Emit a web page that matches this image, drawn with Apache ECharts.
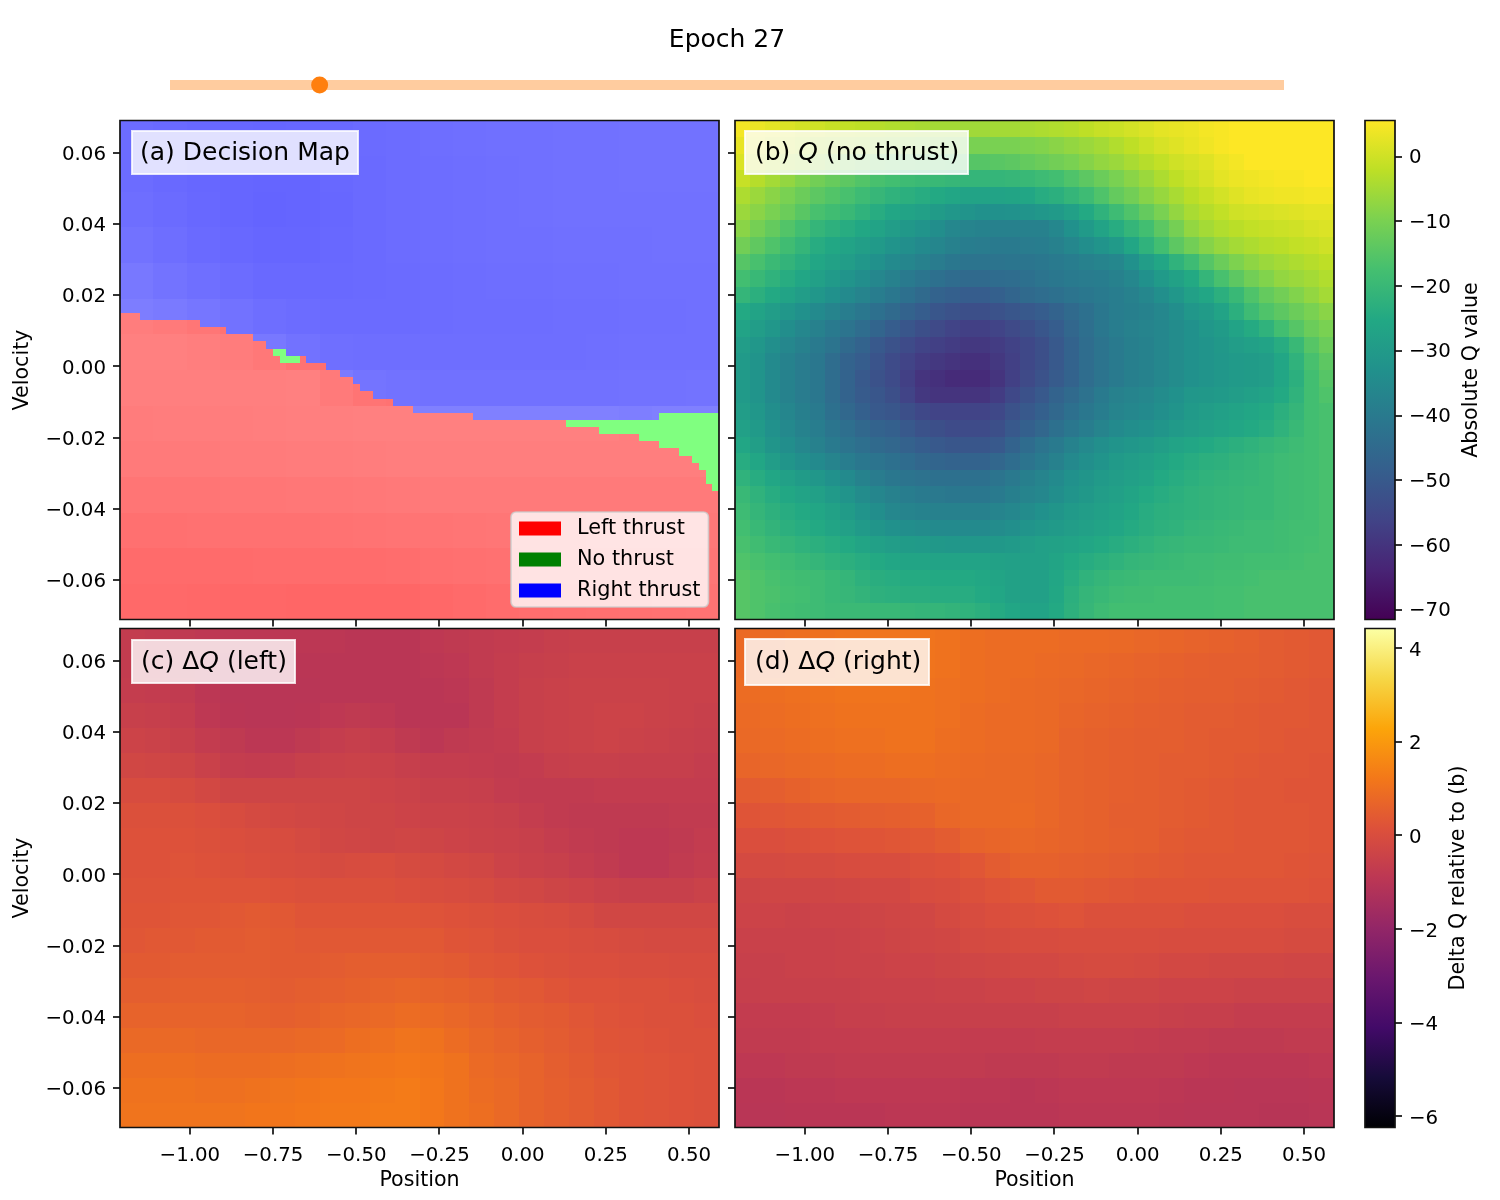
<!DOCTYPE html>
<html><head><meta charset="utf-8">
<script src="https://cdn.jsdelivr.net/npm/echarts@6/dist/echarts.min.js"></script>
<style>html,body{margin:0;background:#fff}#c{width:1500px;height:1200px}</style></head>
<body><div id="c"></div>
<script>
const positionTicks=[-1,-0.75,-0.5,-0.25,0,0.25,0.5];
const velocityTicks=[-0.06,-0.04,-0.02,0,0.02,0.04,0.06];
const qBarTicks=[-70,-60,-50,-40,-30,-20,-10,0];
const deltaBarTicks=[-6,-4,-2,0,2,4];
const qRange=[-71.5,5.56];
const deltaRange=[-6.24,4.42];
const epoch=27, epochMax=201;
// top row of "left thrust" per position column (rows counted from the bottom)
const leftTop=[43,43,43,42,42,42,42,42,42,42,42,42,41,41,41,41,40,40,40,40,39,39,38,37,36,36,36,37,36,36,36,35,35,34,34,33,32,32,31,31,31,30,30,30,29,29,29,29,29,29,29,29,29,28,28,28,28,28,28,28,28,28,28,28,28,28,28,27,27,27,27,27,26,26,26,26,26,26,25,25,25,24,24,24,23,23,22,21,19,18];
// top row of "no thrust" per position column
const noTop=[43,43,43,42,42,42,42,42,42,42,42,42,41,41,41,41,40,40,40,40,39,39,38,38,38,37,37,37,36,36,36,35,35,34,34,33,32,32,31,31,31,30,30,30,29,29,29,29,29,29,29,29,29,28,28,28,28,28,28,28,28,28,28,28,28,28,28,28,28,28,28,28,28,28,28,28,28,28,28,28,28,29,29,29,29,29,29,29,29,29];
// lightness of the decision colour, top row first
const shadeRows=[
[108,106,104,103,102,103,105,107,108,110,111,112,112,113,113,114,114,114],
[108,105,103,102,101,101,104,106,108,109,110,111,112,113,113,114,114,114],
[110,107,104,102,100,101,103,106,108,109,110,111,112,113,113,113,113,113],
[114,110,106,104,102,102,104,106,108,109,110,111,111,112,112,112,113,113],
[120,115,111,108,105,105,105,106,107,108,109,110,110,111,111,112,112,112],
[125,122,118,114,110,108,107,107,107,108,109,109,109,110,110,111,111,112],
[128,128,126,124,120,114,111,110,110,110,110,110,110,110,111,112,112,112],
[127,127,127,127,127,128,122,116,114,113,113,113,113,113,113,114,114,115],
[124,125,125,125,126,127,127,128,128,128,128,128,128,128,128,126,128,128],
[122,122,122,123,123,124,124,125,126,126,126,126,126,126,126,126,126,126],
[117,117,117,118,118,119,119,120,121,122,122,122,122,122,122,122,122,122],
[112,112,113,113,113,113,114,115,116,116,117,118,118,118,119,119,120,120],
[107,107,107,107,108,108,108,108,109,111,112,113,114,115,115,116,117,118],
[105,105,104,103,103,102,102,102,102,104,106,108,110,111,112,113,114,115]];
// Q (no thrust), top row first
const qRows=[
[4.5,3.5,2.5,1.5,0.5, 0,-1,-1.5,-2,-3, -3.5,-4,-4.5,-5,-5, -5.5,-5.5,-5,-5,-4.5, -4,-3.5,-3,-2,-1, -0.5,0.5,1.5,2.5,3, 3.5,4.5,5,5.5,5.5, 5.5,5.5,5.5,5.5,5.5],
[3,2,0.5,-0.5,-2, -3,-4,-4.5,-5,-6, -6.5,-7,-8,-8.5,-9, -10,-10,-10,-10,-9.5, -9,-8,-7,-6,-5, -3.5,-2,-0.5,1,2, 3,4,5,5.5,5.5, 5.5,5.5,5.5,5.5,5.5],
[1.5,-0.5,-2,-3.5,-5, -6,-8,-9.5,-11,-12, -13,-13.5,-14,-14.5,-15, -15,-15,-14.5,-14,-13, -12,-11,-10,-8.5,-7, -6,-4.5,-3,-1.5,0, 1,2,3.5,4.5,5.5, 5.5,5.5,5.5,5.5,5.5],
[-1,-3,-5,-7,-9, -11,-12.5,-14,-15.5,-17, -18,-19,-19.5,-20,-20.5, -21,-21,-21,-20.5,-20, -19,-18,-16,-14,-12, -10,-8,-6,-4,-2, -0.5,1,2.5,3.5,4, 4.5,5,5,5.5,5.5],
[-4,-6,-8,-10,-12, -14,-15.5,-17,-19,-20.5, -22,-23,-24,-25,-26, -27,-27,-27,-26.5,-26, -24,-23,-21,-19,-16, -13,-11,-8.5,-6.5,-4.5, -2.5,-1,0.5,2,3, 3.5,4,4,4.5,4.5],
[-6,-8,-10,-12,-14.5, -17,-18.5,-20,-22,-24, -26,-27,-28,-29.5,-31, -32,-33,-33,-32.5,-32, -31,-30,-28,-25,-22, -19,-16,-13,-10,-7, -4.5,-3,-1.5,0,0.5, 1,1.5,2,2.5,2.5],
[-8,-10.5,-13,-15.5,-18, -21,-22.5,-24,-25.5,-27, -29,-30.5,-32,-34,-36, -37,-37.5,-38,-38,-38, -38,-36,-33,-30,-27, -24,-21,-18,-14,-10.5, -7,-5,-3.5,-2.5,-1.5, -1,-0.5,0,1,1.5],
[-11,-13.5,-16,-18.5,-21, -24,-25.5,-27,-28.5,-30, -32,-33.5,-35,-36.5,-38, -39,-39.5,-40,-40,-39.5, -39,-38,-36,-34,-32, -30,-26,-22,-18,-14, -11,-8.5,-6.5,-5,-4, -3,-2.5,-1.5,-1,0],
[-15,-17,-19.5,-21.5,-23.5, -26,-27.5,-29,-31,-33, -35,-36.5,-38,-39.5,-41, -42,-42,-42,-41.5,-41.5, -41,-40,-39,-38,-37, -36,-33,-29,-26,-22, -19,-15,-12,-9.5,-7.5, -6,-5,-4,-3,-2],
[-18,-20,-22,-24,-26, -28,-30,-32,-34,-36, -38,-40,-41.5,-43,-44.5, -45,-45,-44.5,-44,-43, -42,-41,-40,-39.5,-39, -38,-36,-33,-30,-27.5, -25,-21,-17,-14,-11, -9,-7,-6,-5,-3.5],
[-21,-23,-25,-27,-29, -31,-33,-35,-37,-39, -41,-43,-45,-47,-48, -49,-49,-48,-46.5,-45, -44,-43,-42,-41,-40, -39,-38,-36,-33.5,-31, -28,-26,-23,-20,-16, -13,-11,-9,-7,-5],
[-25,-27,-29,-31,-33, -35,-37,-39,-41,-43, -45,-47,-49,-51,-52, -53,-53,-52,-51,-50, -49,-47,-45,-43,-41, -39,-38.5,-37.5,-36,-34, -31,-29.5,-27,-23,-19, -16,-14,-12,-10,-8],
[-27,-29,-31,-34,-36, -38,-40,-42,-44,-46.5, -49,-51,-53,-54.5,-56, -57,-57,-56,-54.5,-53, -51,-49,-46,-43.5,-41, -39,-38,-37,-36,-34.5, -33,-31,-29.5,-27,-24.5, -22,-18,-15,-12,-10],
[-29,-31,-33.5,-36,-38, -40,-42,-45,-47,-50, -52,-54,-56,-57,-58, -59,-59,-58,-56.5,-55, -53,-50,-47,-44,-42, -40,-38.5,-37.5,-36,-34.5, -33,-32,-30.5,-29,-28, -27,-24,-20,-15,-12],
[-30,-32,-35,-37.5,-39.5, -41,-44,-47,-49,-51.5, -54,-56,-58,-59,-60, -61,-61,-59,-57,-55, -53,-50,-47,-44,-42, -40,-38.5,-37.5,-36,-34.5, -33,-32,-31,-30,-29.5, -29,-26,-22,-17,-14],
[-30,-32,-35,-37.5,-39.5, -41,-44,-47,-50,-52, -54,-57,-60,-61,-62, -62,-62,-60,-57,-54.5, -52,-49.5,-47,-44,-42, -40,-38.5,-37.5,-36,-34.5, -33,-32,-31,-30,-29.5, -29,-26,-23,-18,-15],
[-30,-32,-35,-37.5,-39.5, -41,-44,-47,-49.5,-51, -53,-56,-59,-60,-60, -60,-60,-58,-55,-52.5, -50,-47,-45,-42.5,-40, -38,-37,-36,-34.5,-33, -31,-30.5,-30,-29,-28, -27,-25,-22,-18,-16],
[-29,-31,-34,-36.5,-38.5, -40,-43,-45.5,-48,-50, -51,-53,-55,-56,-56, -56,-56,-55,-52,-50, -48,-45.5,-43,-41,-39, -37,-36,-35,-33.5,-32, -30,-29,-28,-27,-26, -25,-23,-21,-18,-17],
[-28,-30,-33,-35.5,-37.5, -39,-41.5,-43.5,-45.5,-47, -48,-50,-52,-53,-54, -54,-54,-53,-50,-48, -46,-43,-41,-39,-37, -35,-34,-33,-31.5,-30, -29,-28,-27,-26,-25, -24,-22,-20,-18,-17],
[-26,-28.5,-31.5,-34,-36, -38,-40,-42,-43.5,-45, -46,-47.5,-49,-50,-51, -51,-51,-50,-47,-44.5, -42,-40,-37.5,-35.5,-33.5, -32,-31,-30,-28.5,-27, -26,-25,-24,-23,-22, -21,-20,-19,-18,-17],
[-24,-26,-29,-31.5,-33.5, -35,-37,-39,-41,-42, -43,-44.5,-46,-46.5,-47, -47,-47,-46,-44,-42, -40,-38,-35.5,-33.5,-32, -30,-29,-28,-26.5,-25, -24,-23,-22.5,-21.5,-21, -20,-19,-18.5,-18,-17],
[-22,-24,-26,-28,-29.5, -31,-33,-35,-37.5,-39.5, -41,-42,-42.5,-43,-43, -43,-43,-42,-40.5,-38.5, -37,-35,-33,-31.5,-30, -29,-28,-27,-25,-24, -23,-22,-21.5,-21,-20.5, -20,-19,-18.5,-18,-17],
[-20,-22,-24,-25.5,-27, -28,-30,-32,-34.5,-36.5, -38,-39,-40,-40.5,-41, -41,-41,-40,-38.5,-37, -36,-34,-32,-30.5,-29, -28,-26.5,-25,-24,-23, -22,-21.5,-21,-20.5,-20, -20,-19,-18.5,-18,-17],
[-19,-21,-22.5,-24,-25, -26,-27.5,-29.5,-32,-34, -36,-37,-37.5,-38,-38, -38,-38,-37,-36,-34.5, -33,-31.5,-30,-29,-28, -27,-25.5,-24,-23,-22.5, -22,-21.5,-21,-20.5,-20, -20,-19,-18.5,-18,-17],
[-18,-20,-21.5,-23,-24, -25,-26.5,-28,-30,-31.5, -33,-34,-34.5,-35,-35, -35,-35,-34.5,-33.5,-32, -31,-30,-29,-28,-27, -26,-24.5,-23.5,-22.5,-22, -21,-20.5,-20,-19.5,-19, -19,-18.5,-18,-18,-17],
[-17,-18.5,-20,-21,-22, -23,-24,-25,-26.5,-28, -29,-29.5,-30,-30.5,-31, -31,-31,-30.5,-30,-29, -28,-27.5,-27,-26,-25, -24,-23,-22,-21,-20.5, -20,-20,-19.5,-19,-19, -19,-18.5,-18,-17.5,-17],
[-16,-17,-18,-19,-20, -21,-22,-23,-24,-25, -26,-26.5,-26.5,-27,-27, -27,-27,-27.5,-28,-28, -28,-26.5,-25,-24,-23, -22,-21,-20.5,-20,-19.5, -19,-19,-18.5,-18.5,-18, -18,-18,-17.5,-17,-17],
[-15,-16,-17,-18,-18.5, -19,-20,-21,-22.5,-23.5, -24,-24.5,-24.5,-25,-25, -25,-25.5,-26.5,-27.5,-28, -28,-26,-24,-22,-21, -20,-19.5,-19,-19,-19, -19,-18.5,-18,-18,-17.5, -17,-17,-17,-17,-17],
[-15,-16,-16.5,-17.5,-18, -19,-20,-20.5,-21.5,-22.5, -23,-23.5,-23.5,-24,-24, -24,-25,-26,-27.5,-28, -28,-25.5,-23,-21,-20, -19,-18.5,-18.5,-18,-18, -18,-18,-17.5,-17.5,-17, -17,-17,-17,-17,-17],
[-15,-16,-17,-18,-18.5, -19,-19.5,-19.5,-19.5,-20, -20,-20.5,-21,-21,-21.5, -22,-23,-24.5,-26,-27, -27,-25,-22.5,-20.5,-19, -18,-18,-18,-18,-18, -18,-18,-17.5,-17.5,-17, -17,-17,-17,-17,-17]];
// delta Q (left), top row first
const leftRows=[
[-.7,-.75,-.8,-.85,-.9,-.9,-.9,-.9,-.9,-.95,-.95,-.95,-.85,-.8,-.75,-.7,-.65,-.6,-.55,-.55,-.55,-.55,-.55,-.55],
[-.7,-.75,-.8,-.9,-.95,-.95,-.95,-.95,-.95,-.95,-.95,-.95,-.9,-.85,-.75,-.65,-.6,-.55,-.5,-.5,-.5,-.5,-.5,-.5],
[-.65,-.7,-.75,-.9,-1,-1,-1,-1,-.95,-.95,-.95,-.95,-.95,-.9,-.8,-.65,-.55,-.5,-.45,-.45,-.45,-.45,-.5,-.5],
[-.55,-.6,-.65,-.85,-.95,-1,-1,-.95,-.85,-.8,-.85,-.95,-.95,-.95,-.8,-.65,-.55,-.5,-.45,-.4,-.4,-.45,-.5,-.55],
[-.4,-.45,-.55,-.7,-.8,-.9,-.9,-.8,-.65,-.6,-.65,-.8,-.9,-.8,-.75,-.7,-.55,-.5,-.45,-.4,-.45,-.5,-.55,-.6],
[-.25,-.3,-.35,-.5,-.65,-.7,-.65,-.55,-.5,-.45,-.5,-.6,-.65,-.65,-.7,-.75,-.7,-.6,-.55,-.55,-.6,-.6,-.6,-.65],
[-.05,-.05,-.1,-.2,-.35,-.35,-.35,-.35,-.35,-.35,-.4,-.45,-.55,-.55,-.6,-.7,-.75,-.75,-.75,-.7,-.7,-.7,-.7,-.7],
[.1,.1,.1,.05,-.05,-.15,-.2,-.25,-.3,-.35,-.35,-.4,-.45,-.45,-.5,-.55,-.65,-.75,-.8,-.8,-.8,-.8,-.75,-.75],
[.15,.15,.15,.1,.05,0,-.05,-.15,-.25,-.3,-.35,-.3,-.35,-.4,-.45,-.5,-.55,-.65,-.75,-.8,-.85,-.85,-.8,-.7],
[.15,.15,.2,.15,.1,.05,0,-.05,-.1,-.05,0,-.1,-.15,-.2,-.25,-.4,-.5,-.55,-.65,-.75,-.85,-.85,-.75,-.65],
[.2,.2,.25,.25,.2,.2,.15,.1,.1,.1,.1,.05,0,-.05,-.1,-.2,-.25,-.35,-.4,-.5,-.55,-.55,-.55,-.45],
[.25,.25,.3,.3,.35,.4,.35,.25,.25,.25,.25,.25,.2,.15,.1,.05,0,-.05,-.15,-.25,-.25,-.25,-.25,-.25],
[.3,.35,.35,.4,.4,.45,.4,.35,.35,.35,.35,.35,.35,.25,.2,.1,.05,.05,0,-.05,-.1,-.15,-.15,-.15],
[.4,.4,.45,.45,.45,.45,.4,.4,.45,.5,.5,.5,.45,.4,.3,.25,.15,.1,.05,.05,0,0,-.05,-.05],
[.5,.5,.55,.55,.55,.5,.45,.5,.55,.6,.65,.7,.65,.6,.5,.4,.35,.25,.15,.15,.1,.1,.05,0],
[.65,.65,.65,.65,.65,.6,.55,.6,.7,.75,.8,.9,.85,.75,.65,.55,.45,.4,.3,.2,.15,.1,.1,.05],
[.8,.8,.8,.75,.75,.75,.75,.8,.85,.95,1,1.1,1.05,.9,.75,.65,.55,.45,.35,.25,.2,.15,.1,.1],
[.95,.95,.95,.9,.9,.9,.95,1,1.05,1.1,1.15,1.2,1.15,1.05,.85,.75,.65,.5,.4,.3,.25,.2,.15,.1],
[1.05,1.05,1.05,1,1,1.05,1.1,1.15,1.2,1.2,1.25,1.3,1.2,1.05,.9,.8,.65,.55,.45,.35,.25,.2,.15,.1],
[1.1,1.1,1.1,1.1,1.1,1.15,1.15,1.2,1.25,1.25,1.3,1.3,1.2,1.05,.95,.8,.65,.55,.45,.35,.25,.2,.15,.1]];
// delta Q (right), top row first
const rightRows=[
[.85,.9,.95,1,1.05,1.1,1.1,1.1,1.05,.95,.9,.9,.9,.85,.85,.8,.75,.7,.65,.6,.55,.45,.4,.35],
[.85,.9,.95,1,1.05,1.1,1.1,1.1,1.05,.95,.9,.9,.85,.8,.75,.7,.65,.6,.55,.5,.5,.45,.4,.35],
[.9,.95,1,1.05,1.1,1.1,1.1,1.05,1,.95,.9,.85,.8,.75,.7,.65,.6,.55,.5,.5,.45,.4,.35,.3],
[.85,.9,.95,1,1.05,1.05,1.05,1.05,1,.9,.85,.85,.8,.7,.65,.6,.55,.5,.45,.45,.4,.35,.35,.3],
[.8,.85,.9,.95,1,1,1.05,1.05,.95,.9,.85,.85,.8,.65,.6,.55,.5,.5,.45,.4,.4,.35,.3,.3],
[.7,.75,.8,.85,.9,.9,.95,.95,.9,.85,.8,.8,.75,.65,.6,.55,.5,.45,.45,.4,.35,.3,.3,.25],
[.45,.5,.6,.7,.75,.75,.75,.8,.85,.8,.8,.8,.75,.65,.6,.55,.5,.45,.4,.35,.3,.3,.25,.25],
[.25,.3,.35,.4,.45,.5,.55,.6,.75,.8,.8,.85,.75,.65,.6,.5,.5,.45,.4,.35,.3,.3,.3,.25],
[.05,.05,.1,.15,.2,.25,.3,.35,.45,.65,.7,.75,.7,.65,.6,.55,.5,.4,.35,.35,.3,.3,.3,.25],
[-.15,-.15,-.1,-.1,-.05,0,0,.1,.15,.3,.45,.6,.6,.55,.5,.45,.4,.35,.3,.3,.3,.3,.25,.2],
[-.35,-.3,-.3,-.3,-.25,-.2,-.2,-.05,0,.1,.2,.3,.4,.4,.35,.3,.25,.25,.25,.2,.2,.2,.2,.15],
[-.4,-.4,-.45,-.4,-.4,-.35,-.3,-.25,-.15,-.05,.05,.1,.15,.2,.1,.1,.1,.1,.05,.05,.05,.05,0,0],
[-.5,-.5,-.5,-.5,-.45,-.4,-.35,-.3,-.25,-.15,-.1,-.05,-.05,0,0,0,0,-.05,-.05,-.05,-.05,-.05,-.1,-.1],
[-.55,-.55,-.5,-.5,-.45,-.45,-.4,-.4,-.35,-.3,-.25,-.2,-.2,-.15,-.1,-.1,-.15,-.2,-.2,-.25,-.25,-.25,-.3,-.3],
[-.6,-.55,-.55,-.55,-.55,-.5,-.5,-.5,-.45,-.45,-.4,-.4,-.35,-.35,-.3,-.35,-.35,-.4,-.4,-.4,-.45,-.45,-.45,-.45],
[-.7,-.7,-.7,-.65,-.6,-.6,-.55,-.55,-.55,-.55,-.55,-.55,-.55,-.5,-.5,-.5,-.5,-.55,-.6,-.6,-.65,-.65,-.65,-.65],
[-.75,-.75,-.75,-.7,-.7,-.65,-.65,-.65,-.65,-.7,-.7,-.7,-.65,-.65,-.65,-.65,-.7,-.75,-.75,-.8,-.8,-.8,-.75,-.75],
[-.85,-.85,-.8,-.8,-.75,-.75,-.75,-.75,-.75,-.75,-.8,-.8,-.8,-.75,-.75,-.8,-.8,-.8,-.85,-.9,-.9,-.9,-.9,-.85],
[-.95,-.95,-.9,-.9,-.85,-.85,-.85,-.85,-.85,-.9,-.9,-.95,-.9,-.85,-.85,-.85,-.85,-.9,-.95,-.95,-1,-1,-1,-.95],
[-1,-1,-.95,-.95,-.95,-.95,-.9,-.9,-.9,-.95,-.95,-.95,-.95,-.9,-.9,-.9,-.9,-.95,-1,-1,-1,-1.05,-1.05,-1]];

const viridis=['#440154','#482475','#414487','#355f8d','#2a788e','#21918c','#22a884','#44bf70','#7ad151','#bddf26','#fde725'];
const inferno=['#000004','#160b39','#420a68','#6a176e','#932667','#bc3754','#dd513a','#f37819','#fca50a','#f6d746','#fcffa4'];
const FONT='DejaVu Sans', TICK=19.8, NAME=20.6, PANEL=25, LEG=20.8;
const XR=[-1.21,0.59], YR=[-0.071,0.069];

const panels=[{l:120,t:120.5},{l:735,t:120.5},{l:120,t:628.5},{l:735,t:628.5}];
const PW=599, PH=499;
const minus=s=>String(s).replace('-','\u2212');
const grid=[],xAxis=[],yAxis=[],series=[],visualMap=[],graphic=[];
panels.forEach((p,i)=>{
  grid.push({left:p.l,top:p.t,width:PW,height:PH});
  graphic.push({type:'rect',z:50,shape:{x:p.l,y:p.t,width:PW,height:PH},style:{fill:'transparent',stroke:'#111',lineWidth:1.7}});
  const bottomRow=i>=2, leftCol=i%2===0;
  xAxis.push({type:'value',gridIndex:i,min:XR[0],max:XR[1],splitLine:{show:false},axisLine:{show:false},axisTick:{show:false},
    axisLabel:{show:bottomRow,customValues:positionTicks,margin:18,color:'#000',fontFamily:FONT,fontSize:TICK,formatter:v=>minus(v.toFixed(2))},
    name:bottomRow?'Position':'',nameLocation:'middle',nameGap:43,nameTextStyle:{color:'#000',fontFamily:FONT,fontSize:NAME}});
  yAxis.push({type:'value',gridIndex:i,min:YR[0],max:YR[1],splitLine:{show:false},axisLine:{show:false},axisTick:{show:false},
    axisLabel:{show:leftCol,customValues:velocityTicks,margin:14,verticalAlign:'top',padding:[-8,0,0,0],color:'#000',fontFamily:FONT,fontSize:TICK,formatter:v=>minus(v.toFixed(2))},
    name:leftCol?'Velocity':'',nameLocation:'middle',nameGap:87,nameRotate:90,nameTextStyle:{color:'#000',fontFamily:FONT,fontSize:NAME}});
});
const bars=[{l:1365,t:120.5,r:qRange,ticks:qBarTicks,c:viridis,name:'Absolute Q value',gap:66,pad:-8.5},
            {l:1365,t:628.5,r:deltaRange,ticks:deltaBarTicks,c:inferno,name:'Delta Q relative to (b)',gap:53,pad:-7.5}];
bars.forEach((b,k)=>{
  const gi=4+k;
  grid.push({left:b.l,top:b.t,width:30,height:PH});
  graphic.push({type:'rect',z:50,shape:{x:b.l,y:b.t,width:30,height:PH},style:{fill:'transparent',stroke:'#111',lineWidth:1.7}});
  xAxis.push({type:'value',gridIndex:gi,min:0,max:1,show:false});
  yAxis.push({type:'value',gridIndex:gi,position:'right',min:b.r[0],max:b.r[1],splitLine:{show:false},axisLine:{show:false},axisTick:{show:false},
    axisLabel:{customValues:b.ticks,margin:14,verticalAlign:'top',padding:[b.pad,0,0,0],color:'#000',fontFamily:FONT,fontSize:TICK,formatter:v=>minus(v)},
    name:b.name,nameLocation:'middle',nameGap:b.gap,nameRotate:90,nameTextStyle:{color:'#000',fontFamily:FONT,fontSize:NAME}});
  series.push({type:'custom',xAxisIndex:gi,yAxisIndex:gi,silent:true,data:[[0,b.r[0],1,b.r[1]]],encode:{x:[0,2],y:[1,3]},
    renderItem:(params,api)=>{
      const a=api.coord([api.value(0),api.value(1)]), c=api.coord([api.value(2),api.value(3)]);
      return {type:'rect',shape:{x:a[0],y:c[1],width:c[0]-a[0],height:a[1]-c[1]},
        style:{fill:new echarts.graphic.LinearGradient(0,1,0,0,b.c.map((col,n)=>({offset:n/(b.c.length-1),color:col})))}};
    }});
});
// slider: grid 6
grid.push({left:170,top:75,width:1114,height:20});
xAxis.push({type:'value',gridIndex:6,min:0,max:epochMax,show:false});
yAxis.push({type:'value',gridIndex:6,min:-1,max:1,show:false});
series.push({type:'line',xAxisIndex:6,yAxisIndex:6,silent:true,symbol:'none',data:[[0,0],[epochMax,0]],lineStyle:{color:'rgba(255,127,14,0.4)',width:10,cap:'butt'}});
series.push({type:'scatter',xAxisIndex:6,yAxisIndex:6,silent:true,symbolSize:17,data:[[epoch,0]],itemStyle:{color:'#ff7f0e',opacity:1}});

// cells: rectangles placed through the value axes, edges snapped to whole pixels
const cellItem=(params,api)=>{
  const a=api.coord([api.value(0),api.value(1)]), c=api.coord([api.value(2),api.value(3)]);
  const x0=Math.round(a[0]),x1=Math.round(c[0]),y1=Math.round(a[1]),y0=Math.round(c[1]);
  return {type:'rect',shape:{x:x0,y:y0,width:x1-x0,height:y1-y0},style:{fill:api.visual('color')}};
};
function cell(c,r,nx,ny,v){
  const dx=(XR[1]-XR[0])/nx, dy=(YR[1]-YR[0])/ny;
  return [XR[0]+c*dx,YR[0]+r*dy,XR[0]+(c+1)*dx,YR[0]+(r+1)*dy,v];
}
function rowsToCells(rows){
  const out=[], ny=rows.length;
  rows.forEach((row,r)=>row.forEach((v,c)=>out.push(cell(c,ny-1-r,row.length,ny,v))));
  return out;
}
function heat(gi,rows,range,colors){
  const idx=series.length;
  series.push({type:'custom',xAxisIndex:gi,yAxisIndex:gi,silent:true,progressive:0,data:rowsToCells(rows),encode:{x:[0,2],y:[1,3]},renderItem:cellItem});
  visualMap.push({show:false,seriesIndex:idx,min:range[0],max:range[1],dimension:4,inRange:{color:colors}});
}
heat(1,qRows,qRange,viridis);
heat(2,leftRows,deltaRange,inferno);
heat(3,rightRows,deltaRange,inferno);

// decision map: three series, one per action
const cells={left:[],none:[],right:[]};
for(let c=0;c<90;c++)for(let r=0;r<70;r++){
  const s=shadeRows[Math.floor((69-r)/5)][Math.floor(c/5)];
  const it=cell(c,r,90,70,s);
  if(r<leftTop[c])cells.left.push(it);
  else if(r<noTop[c])cells.none.push(it);
  else cells.right.push(it);
}
[['Left thrust',cells.left,'#ff0000',['#ff6464','#ff8080']],
 ['No thrust',cells.none,'#008000',['#80ff80','#80ff80']],
 ['Right thrust',cells.right,'#0000ff',['#6464ff','#8080ff']]].forEach(d=>{
  const idx=series.length;
  series.push({name:d[0],type:'custom',xAxisIndex:0,yAxisIndex:0,silent:true,progressive:0,data:d[1],encode:{x:[0,2],y:[1,3]},renderItem:cellItem,itemStyle:{color:d[2]}});
  visualMap.push({show:false,seriesIndex:idx,min:100,max:128,dimension:4,inRange:{color:d[3]}});
});

// tick marks, on top of the panels' edges
function ticks(gi,values,side,range){
  series.push({type:'custom',xAxisIndex:gi,yAxisIndex:gi,silent:true,z:6,data:values.map(v=>[v]),encode:side==='b'?{x:0}:{y:0},
    renderItem:(params,api)=>{
      const v=api.value(0);
      const p=side==='b'?api.coord([v,range]):api.coord([range,v]);
      const x=Math.round(p[0]), y=Math.round(p[1]);
      const shape=side==='b'?{x1:x,y1:p[1],x2:x,y2:p[1]+7}:side==='l'?{x1:p[0],y1:y,x2:p[0]-7,y2:y}:{x1:p[0],y1:y,x2:p[0]+7,y2:y};
      return {type:'line',shape,style:{stroke:'#000',lineWidth:1.6}};
    }});
}
panels.forEach((p,i)=>{ticks(i,positionTicks,'b',YR[0]);ticks(i,velocityTicks,'l',XR[0]);});
ticks(4,qBarTicks,'r',1);
ticks(5,deltaBarTicks,'r',1);

const rich={i:{fontStyle:'italic',fontFamily:FONT,fontSize:PANEL,color:'#000'}};
const label=(text,left,top,pad)=>({text,left,top,padding:pad,itemGap:0,backgroundColor:'rgba(255,255,255,0.8)',borderColor:'rgba(255,255,255,0.8)',borderWidth:2,
  textStyle:{fontFamily:FONT,fontSize:PANEL,fontWeight:'normal',color:'#000',rich}});
const title=[
 {text:'Epoch 27',left:727,top:28,textAlign:'center',padding:0,textStyle:{fontFamily:FONT,fontSize:PANEL,fontWeight:'normal',color:'#000'}},
 label('(a) Decision Map',132,131,[10,8,8,8]),
 label('(b) {i|Q} (no thrust)',745,131,[10,9,8,10]),
 label('(c) \u0394{i|Q} (left)',132,640,[10,8,8,9]),
 label('(d) \u0394{i|Q} (right)',745,639,[11,8,10,10])
];
const chart=echarts.init(document.getElementById('c'),null,{renderer:'canvas'});
chart.setOption({animation:false,backgroundColor:'#fff',title,grid,xAxis,yAxis,series,visualMap,graphic,
  legend:{data:['Left thrust','No thrust','Right thrust'],orient:'vertical',left:511,top:512,selectedMode:false,icon:'rect',itemWidth:42,itemHeight:14,itemGap:10,
    padding:[6,8,6,8],backgroundColor:'rgba(255,255,255,0.8)',borderColor:'rgba(204,204,204,0.8)',borderWidth:1.7,borderRadius:5,
    textStyle:{fontFamily:FONT,fontSize:LEG,color:'#000',padding:[0,0,0,11]}}});
</script></body></html>
